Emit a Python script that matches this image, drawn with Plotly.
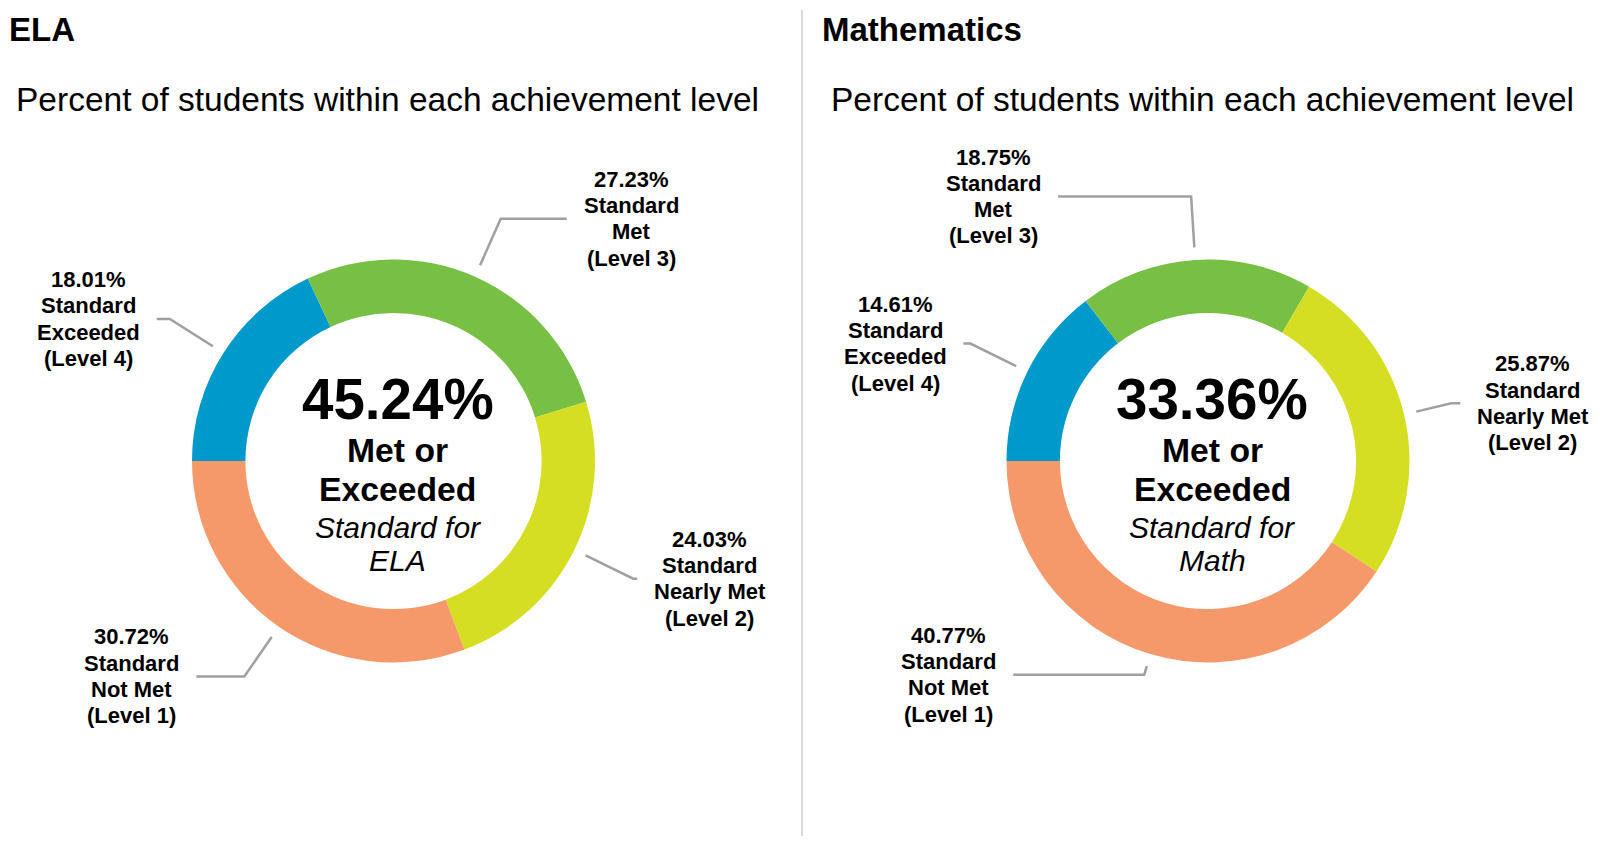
import math
import plotly.graph_objects as go

# ---------------- data ----------------
subjects = ["ELA", "Mathematics"]
subject_short = ["ELA", "Math"]
level_names = ["Standard Exceeded (Level 4)", "Standard Met (Level 3)",
               "Standard Nearly Met (Level 2)", "Standard Not Met (Level 1)"]
level_lines = [["Standard", "Exceeded", "(Level 4)"],
               ["Standard", "Met", "(Level 3)"],
               ["Standard", "Nearly Met", "(Level 2)"],
               ["Standard", "Not Met", "(Level 1)"]]
ela_values = [18.01, 27.23, 24.03, 30.72]
math_values = [14.61, 18.75, 25.87, 40.77]
subtitle = "Percent of students within each achievement level"

# ---------------- style ----------------
colors = ["#0099CC", "#77C043", "#D6DE23", "#F6996A"]
PAGE_W, PAGE_H = 1600, 844
OFF = 8  # default page body margin
W, H = PAGE_W - 2 * OFF, PAGE_H - 2 * OFF
FONT = "Liberation Sans, Arial, sans-serif"
centers = [(393.5, 461.0), (1208.0, 461.0)]
R = 201.5
HOLE = 0.735
START_R = 214
# per chart, per level: (elbow radius, horizontal run)
leaders = [
    [(265, -13), (265, 66), (267, 4), (262, -48)],
    [(265, -7), (265, -133), (250, 9), (223, -131)],
]
LABEL_GAP = 17
LABEL_SIZE = 22
LABEL_LINE = 26.3
LEADER_COLOR = "#A0A0A0"

# approximate bold glyph advance widths (em) used to centre label blocks
_BW = {".": .278, "%": .889, "(": .333, ")": .333, " ": .278, "S": .667, "t": .333,
       "a": .556, "n": .611, "d": .611, "r": .389, "E": .667, "x": .556, "c": .556,
       "e": .556, "M": .833, "N": .722, "l": .278, "y": .556, "L": .611, "v": .556,
       "o": .611}


def text_w(s, size):
    return sum(_BW.get(ch, .556) for ch in s) * size


def px(x):
    return (x - OFF) / W


def py(y):
    return 1 - (y - OFF) / H


fig = go.Figure()
annotations = []
shapes = []

all_values = [ela_values, math_values]
for ci, values in enumerate(all_values):
    cx, cy = centers[ci]
    fig.add_trace(go.Pie(
        values=values,
        labels=level_names,
        marker=dict(colors=colors, line=dict(width=0)),
        hole=HOLE,
        sort=False,
        direction="clockwise",
        rotation=270,
        textinfo="none",
        showlegend=False,
        domain=dict(x=[px(cx - R), px(cx + R)], y=[py(cy + R), py(cy - R)]),
    ))

    # leader lines and labels, positioned from each slice's mid-angle
    total = sum(values)
    start = 180.0  # 9 o'clock, going clockwise
    for li, v in enumerate(values):
        sweep = v / total * 360.0
        mid = math.radians(start - sweep / 2)
        start -= sweep
        er, run = leaders[ci][li]
        x0, y0 = cx + START_R * math.cos(mid), cy - START_R * math.sin(mid)
        x1, y1 = cx + er * math.cos(mid), cy - er * math.sin(mid)
        x2, y2 = x1 + run, y1
        shapes.append(dict(
            type="path", xref="paper", yref="paper",
            path=f"M {px(x0)},{py(y0)} L {px(x1)},{py(y1)} L {px(x2)},{py(y2)}",
            line=dict(color=LEADER_COLOR, width=2.5),
        ))
        lines = [f"{v:.2f}%"] + level_lines[li]
        half = max(text_w(s, LABEL_SIZE) for s in lines) / 2
        lx = x2 + (LABEL_GAP + half if run > 0 else -(LABEL_GAP + half))
        n = len(lines)
        for k, s in enumerate(lines):
            ly = y2 + (k - (n - 1) / 2) * LABEL_LINE
            annotations.append(dict(
                x=px(lx), y=py(ly), xref="paper", yref="paper",
                xanchor="center", yanchor="middle",
                text=f"<b>{s}</b>", showarrow=False,
                font=dict(family=FONT, size=LABEL_SIZE, color="#000000"),
            ))

    # center text
    met = values[0] + values[1]
    tx = cx + 4
    center_lines = [
        (f"<b>{met:.2f}%</b>", 56.5, -62),
        ("<b>Met or</b>", 33.7, -11),
        ("<b>Exceeded</b>", 33.7, 28),
        ("<i>Standard for</i>", 30, 66),
        (f"<i>{subject_short[ci]}</i>", 30, 99),
    ]
    for t, s, dy in center_lines:
        annotations.append(dict(
            x=px(tx), y=py(cy + dy), xref="paper", yref="paper",
            xanchor="center", yanchor="middle", text=t, showarrow=False,
            font=dict(family=FONT, size=s, color="#000000"),
        ))

# titles and subtitles
title_x = [7, 820]
sub_x = [14, 829]
for ci, name in enumerate(subjects):
    annotations.append(dict(
        x=px(title_x[ci]), y=py(29), xref="paper", yref="paper",
        xanchor="left", yanchor="middle", text=f"<b>{name}</b>", showarrow=False,
        font=dict(family=FONT, size=33, color="#000000"),
    ))
    annotations.append(dict(
        x=px(sub_x[ci]), y=py(99), xref="paper", yref="paper",
        xanchor="left", yanchor="middle", text=subtitle, showarrow=False,
        font=dict(family=FONT, size=33.5, color="#000000"),
    ))

# divider
shapes.append(dict(type="line", xref="paper", yref="paper",
                   x0=px(802), x1=px(802), y0=py(10), y1=0,
                   line=dict(color="#D9D9D9", width=2)))

fig.update_layout(
    width=W, height=H, autosize=False,
    margin=dict(l=0, r=0, t=0, b=0),
    paper_bgcolor="white", plot_bgcolor="white",
    annotations=annotations, shapes=shapes,
)

fig.write_html("out.html")
